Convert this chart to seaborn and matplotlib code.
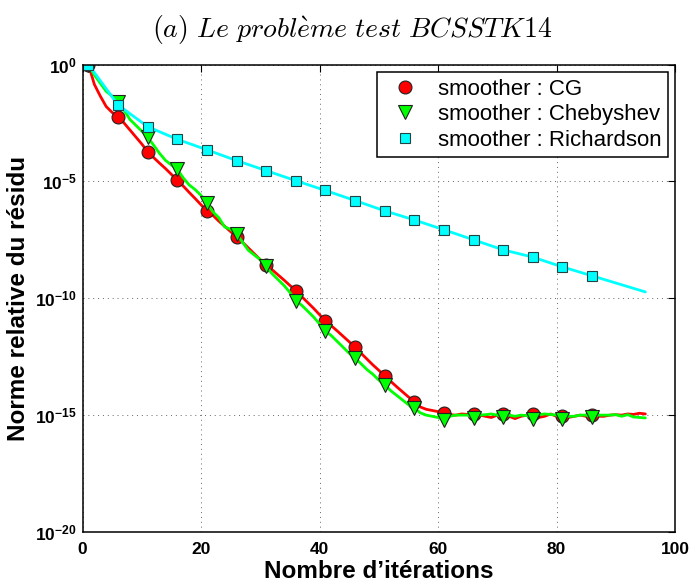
import numpy as np
import matplotlib
matplotlib.use("Agg")
import matplotlib.pyplot as plt
from matplotlib.lines import Line2D
from matplotlib.ticker import FixedLocator, NullLocator, FixedFormatter
import seaborn as sns

# ---------------- data (log10 of relative residual) ----------------
iterations = list(range(1, 96))

cg_log10 = [
    0, -0.85, -1.35, -1.8, -2.05, -2.23, -2.5, -2.8, -3.1, -3.4,
    -3.73, -3.98, -4.22, -4.45, -4.7, -4.94, -5.2, -5.47, -5.73, -6.0,
    -6.25, -6.45, -6.7, -6.92, -7.15, -7.36, -7.6, -7.85, -8.1, -8.35,
    -8.57, -8.78, -9.0, -9.22, -9.45, -9.67, -9.93, -10.18, -10.43, -10.7,
    -10.96, -11.18, -11.4, -11.63, -11.86, -12.09, -12.35, -12.6, -12.85, -13.08,
    -13.32, -13.55, -13.78, -14.0, -14.22, -14.42, -14.65, -14.75, -14.8, -14.85,
    -14.89, -14.98, -15.0, -14.95, -14.97, -14.95, -15.0, -15.05, -15.1, -15.0,
    -14.95, -15.05, -15.15, -15.05, -15.0, -14.97, -15.1, -15.05, -14.95, -15.05,
    -15.05, -15.1, -15.05, -15.0, -15.05, -15.0, -15.05, -15.05, -15.0, -14.98,
    -15.0, -14.95, -14.97, -14.92, -14.95,
]

cheb_log10 = [
    0, -0.45, -0.8, -1.15, -1.35, -1.59, -1.95, -2.35, -2.6, -2.85,
    -3.11, -3.45, -3.8, -4.1, -4.3, -4.48, -4.85, -5.15, -5.35, -5.6,
    -5.93, -6.3, -6.55, -6.95, -7.05, -7.24, -7.6, -7.95, -8.15, -8.35,
    -8.64, -8.95, -9.2, -9.45, -9.75, -10.1, -10.3, -10.55, -10.8, -11.1,
    -11.4, -11.6, -11.85, -12.1, -12.35, -12.56, -12.8, -13.05, -13.25, -13.5,
    -13.7, -13.95, -14.15, -14.35, -14.55, -14.7, -14.9, -15.0, -15.05, -15.1,
    -15.2, -15.05, -15.0, -15.0, -15.0, -15.12, -15.0, -14.98, -14.95, -15.0,
    -15.08, -15.0, -15.05, -15.0, -15.02, -15.15, -14.98, -14.95, -14.97, -15.0,
    -15.15, -15.05, -15.05, -15.0, -15.0, -15.1, -15.0, -15.0, -15.0, -14.98,
    -15.05, -14.98, -15.08, -15.1, -15.12,
]

rich_iterations = [1, 6, 11, 16, 21, 26, 31, 36, 41, 46, 51, 56, 61, 66, 71, 76, 81, 86, 95]
rich_log10 = [0, -1.73, -2.66, -3.2, -3.65, -4.11, -4.54, -4.97, -5.39, -5.82,
              -6.26, -6.65, -7.07, -7.5, -7.93, -8.24, -8.66, -9.04, -9.73]

labels = ["smoother : CG", "smoother : Chebyshev", "smoother : Richardson"]
x_ticks = [0, 20, 40, 60, 80, 100]
y_tick_exps = [0, -5, -10, -15, -20]
title = r"$(a)\ Le\ probl\grave{e}me\ test\ BCSSTK14$"
xlabel = "Nombre d’itérations"
ylabel = "Norme relative du résidu"

# ---------------- style ----------------
sns.set_theme(style="white")
plt.rcParams["font.family"] = ["Liberation Sans", "DejaVu Sans"]
plt.rcParams["text.color"] = "black"
plt.rcParams["axes.labelcolor"] = "black"
plt.rcParams["mathtext.fontset"] = "custom"
plt.rcParams["mathtext.rm"] = "Liberation Sans:bold"
plt.rcParams["mathtext.bf"] = "Liberation Sans:bold"
plt.rcParams["mathtext.it"] = "Liberation Sans:bold"

fig = plt.figure(figsize=(6.94, 5.84), dpi=100)
ax = fig.add_axes([82.5 / 694, 1 - 532 / 584, (675 - 82.5) / 694, (532 - 64.5) / 584])

red, green, cyan = "#ff0000", "#00ff00", "#00ffff"
mark_every = slice(0, 86, 5)

sns.lineplot(x=iterations, y=10.0 ** np.array(cg_log10), ax=ax, color=red, lw=2.0,
             marker="o", markersize=9.3, markeredgecolor="#222222", markeredgewidth=0.8,
             markevery=mark_every, estimator=None, legend=False)
sns.lineplot(x=iterations, y=10.0 ** np.array(cheb_log10), ax=ax, color=green, lw=2.0,
             marker="v", markersize=10, markeredgecolor="#222222", markeredgewidth=0.8,
             markevery=mark_every, estimator=None, legend=False)
sns.lineplot(x=rich_iterations, y=10.0 ** np.array(rich_log10), ax=ax, color=cyan, lw=2.0,
             marker="s", markersize=7.5, markeredgecolor="#224444", markeredgewidth=0.8,
             markevery=slice(0, len(rich_iterations) - 1), estimator=None, legend=False)

ax.set_yscale("log")
ax.set_xlim(0, 100)
ax.set_ylim(1e-20, 1.0)
ax.xaxis.set_major_locator(FixedLocator(x_ticks))
ax.xaxis.set_minor_locator(NullLocator())
ax.yaxis.set_major_locator(FixedLocator([10.0 ** e for e in y_tick_exps]))
ax.yaxis.set_minor_locator(NullLocator())
ax.yaxis.set_major_formatter(FixedFormatter([r"$10^{%d}$" % e for e in y_tick_exps]))
ax.set_xticklabels([str(v) for v in x_ticks], fontweight="bold")

ax.tick_params(axis="both", which="major", direction="in", length=5, width=0.8,
               top=True, right=True, labelsize=12.5, colors="black")
ax.tick_params(axis="x", pad=7)
ax.tick_params(axis="y", pad=4)

for sp in ax.spines.values():
    sp.set_visible(True)
    sp.set_color("black")
    sp.set_linewidth(1.1)

ax.grid(True, which="major", color="#666666", linestyle=(0, (1, 4)), linewidth=0.7)
ax.set_axisbelow(True)

ax.set_xlabel(xlabel, fontsize=17.5, fontweight="bold", labelpad=2, color="black")
ax.set_ylabel(ylabel, fontsize=17.5, fontweight="bold", labelpad=4, color="black")

fig.text(352 / 694, 1 - 29 / 584, title, ha="center", va="center", fontsize=20,
         math_fontfamily="cm", color="black")

handles = [
    Line2D([], [], color=red, marker="o", linestyle="none", markersize=9.3,
           markeredgecolor="#222222", markeredgewidth=0.8),
    Line2D([], [], color=green, marker="v", linestyle="none", markersize=10,
           markeredgecolor="#222222", markeredgewidth=0.8),
    Line2D([], [], color=cyan, marker="s", linestyle="none", markersize=7.5,
           markeredgecolor="#224444", markeredgewidth=0.8),
]
leg = ax.legend(handles, labels, loc="upper right",
                bbox_to_anchor=((668 - 82.5) / 592.5, (532 - 72) / 467.5),
                fontsize=16, frameon=True, fancybox=False, shadow=False,
                framealpha=1, edgecolor="black", borderpad=0.3, labelspacing=0.2,
                handlelength=2.0, handletextpad=0.45, borderaxespad=0)
leg.get_frame().set_linewidth(1.1)
for t in leg.get_texts():
    t.set_color("black")

fig.savefig("out.png", dpi=100)
